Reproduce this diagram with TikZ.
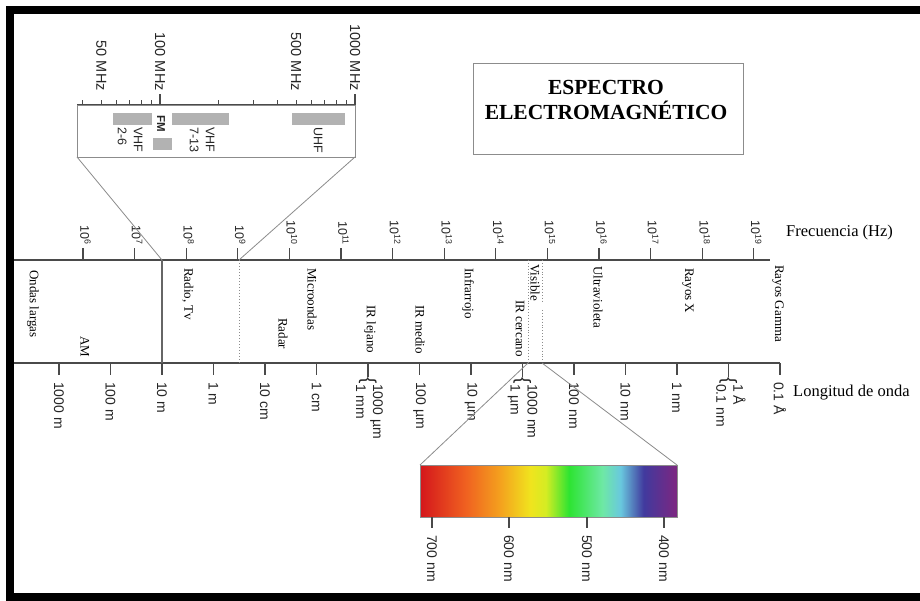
\documentclass[tikz,border=0pt]{standalone}
\usepackage{fontspec}
\setmainfont{Liberation Serif}
\newfontfamily\arialf{Liberation Sans}
\definecolor{axisgray}{HTML}{4A4A4A}
\definecolor{boxgray}{HTML}{8C8C8C}
\definecolor{bargray}{HTML}{B2B2B2}
\definecolor{sc0}{RGB}{212,22,28}
\definecolor{sc1}{RGB}{240,98,32}
\definecolor{sc2}{RGB}{244,160,30}
\definecolor{sc3}{RGB}{240,228,30}
\definecolor{sc4}{RGB}{212,236,35}
\definecolor{sc5}{RGB}{45,228,50}
\definecolor{sc6}{RGB}{110,232,165}
\definecolor{sc7}{RGB}{105,200,222}
\definecolor{sc8}{RGB}{65,58,158}
\definecolor{sc9}{RGB}{125,38,128}
\pgfdeclarehorizontalshading{visspec}{100bp}{%
  color(0bp)=(sc0);
  color(25bp)=(sc0);
  color(34bp)=(sc1);
  color(40.5bp)=(sc2);
  color(46.5bp)=(sc3);
  color(49.5bp)=(sc4);
  color(54bp)=(sc5);
  color(60.5bp)=(sc6);
  color(64bp)=(sc7);
  color(68.5bp)=(sc8);
  color(75bp)=(sc9);
  color(100bp)=(sc9)}
\tikzset{
  axisline/.style={draw=axisgray, line width=1.3pt},
  tickline/.style={draw=axisgray, line width=1.3pt},
  thinline/.style={draw=boxgray, line width=0.8pt},
  bandlabel/.style={rotate=-90, anchor=west, inner sep=0pt, font=\fontsize{13}{15}\selectfont},
  flabel/.style={rotate=-90, anchor=east, inner sep=0pt, text=black!85, font=\arialf\fontsize{12.5}{14}\selectfont},
  wlabel/.style={rotate=-90, anchor=west, inner sep=0pt, text=black!85, font=\arialf\fontsize{14}{17}\selectfont},
  mlabel/.style={rotate=-90, anchor=east, inner sep=0pt, text=black!85, font=\arialf\fontsize{14.5}{17}\selectfont},
  ilabel/.style={rotate=-90, anchor=west, inner sep=0pt, text=black!85, font=\arialf\fontsize{12.5}{16}\selectfont},
  graybar/.style={fill=bargray, draw=none},
  axistitle/.style={anchor=west, inner sep=0pt, font=\fontsize{16.5}{19}\selectfont}
}
\begin{document}
\begin{tikzpicture}[x=1pt,y=-1pt]
\useasboundingbox (0,0) rectangle (920,601);
% frame
\fill[black] (6,6) rectangle (920,601);
\fill[white] (14,14) rectangle (920,593);

% title box
\draw[boxgray, line width=1pt] (473,64) rectangle (743,155);
\node[font=\bfseries\fontsize{21.5}{25}\selectfont, align=center, inner sep=0pt] (title) at (606,100) {ESPECTRO\\ELECTROMAGNÉTICO};

% inset (MHz) box
\coordinate (ibl) at (77,157);
\coordinate (ibr) at (355,157);
\draw[thinline] (77,105) rectangle (355,157);
\draw[axisline, line width=1pt] (77,105) -- (355,105);
\foreach \v in {40,50,60,70,80,90,200,300,400,500,600,700,800,900}{
  \pgfmathsetmacro\xx{160+195*log10(\v/100)}
  \draw[tickline, line width=0.9pt] (\xx,105) -- (\xx,100);
}
\draw[tickline, line width=1.2pt] (160,105) -- (160,94);
\draw[tickline, line width=1.2pt] (355,105) -- (355,94);
\node[mlabel] (m50) at (101.3,91) {50 MHz};
\node[mlabel] (m100) at (160,91) {100 MHz};
\node[mlabel] (m500) at (296,91) {500 MHz};
\node[mlabel] (m1000) at (355,91) {1000 MHz};
\fill[graybar] (113,113) rectangle (152,125);
\fill[graybar] (153,138) rectangle (172,150);
\fill[graybar] (172,113) rectangle (229,125);
\fill[graybar] (292,113) rectangle (345,125);
\node[ilabel] (vhfa) at (129,127) {\begin{tabular}{@{}l@{}}VHF\\2-6\end{tabular}};
\node[ilabel, font=\arialf\bfseries\fontsize{11.5}{14}\selectfont] (fm) at (161,115) {FM};
\node[ilabel] (vhfb) at (201,127) {\begin{tabular}{@{}l@{}}VHF\\7-13\end{tabular}};
\node[ilabel] (uhf) at (318,127) {UHF};

% frequency axis
\coordinate (fl) at (14,260);
\coordinate (fr) at (770,260);
\draw[axisline] (fl) -- (fr);
\foreach \n [count=\i from 0] in {6,...,19}{
  \pgfmathsetmacro\xx{83+\i*51.6}
  \draw[tickline] (\xx,260) -- (\xx,248);
  \node[flabel] (f\n) at (\xx+2.5,245) {10\textsuperscript{\n}};
}
\node[axistitle] (freq) at (786,233) {Frecuencia (Hz)};

% wavelength axis
\coordinate (wl) at (14,363);
\coordinate (wr) at (780,363);
\draw[axisline] (wl) -- (wr);
\foreach \k/\t in {0/1000 m,1/100 m,2/10 m,3/1 m,4/10 cm,5/1 cm,7/100 µm,8/10 µm,10/100 nm,11/10 nm,12/1 nm,14/0.1 Å}{
  \pgfmathsetmacro\xx{59+\k*51.5}
  \draw[tickline] (\xx,363) -- (\xx,375);
  \node[wlabel] (w\k) at (\xx,382) {\t};
}
\foreach \k/\ta/\tb in {6/1000 µm/1 mm,9/1000 nm/1 µm,13/1 Å/0.1 nm}{
  \pgfmathsetmacro\xx{59+\k*51.5}
  \draw[tickline] (\xx,363) -- (\xx,377);
  \node[wlabel] (w\k) at (\xx,377.5) {\raisebox{-1.5pt}{\fontsize{19}{19}\selectfont\{}\begin{tabular}{@{}l@{}}\ta\\\tb\end{tabular}};
}
\node[axistitle] (long) at (793,393) {Longitud de onda};

% dividers
\coordinate (d1t) at (162,260); \coordinate (d1b) at (162,363);
\coordinate (d2t) at (239,260); \coordinate (d2b) at (239,363);
\draw[draw=black!60, line width=1.2pt] (d1t) -- (d1b);
\draw[draw=black!45, line width=1pt, dotted] (d2t) -- (d2b);
\coordinate (v1t) at (528,260); \coordinate (v1b) at (528,363);
\coordinate (v2t) at (542,260); \coordinate (v2m) at (542,301);
\coordinate (v2n) at (542,310); \coordinate (v2b) at (542,360);
\coordinate (v2u) at (542,363);
\draw[draw=black!45, line width=0.9pt, dotted] (v1t) -- (v1b);
\draw[draw=black!45, line width=0.9pt, dotted] (v2t) -- (v2m);
\draw[draw=black!45, line width=0.9pt, dotted] (v2n) -- (v2b);

% inset connectors
\draw[thinline] (ibl) -- (d1t);
\draw[thinline] (ibr) -- (d2t);

% band labels
\node[bandlabel] (ondas) at (33,270) {Ondas largas};
\node[bandlabel] (am) at (85,336) {AM};
\node[bandlabel] (radio) at (188,268) {Radio, Tv};
\node[bandlabel] (micro) at (312,268) {Microondas};
\node[bandlabel] (radar) at (283,318) {Radar};
\node[bandlabel] (irl) at (370,305) {IR lejano};
\node[bandlabel] (irm) at (420,305) {IR medio};
\node[bandlabel] (infra) at (468,268) {Infrarrojo};
\node[bandlabel] (irc) at (520,300) {IR cercano};
\node[bandlabel] (visible) at (535,264) {Visible};
\node[bandlabel] (uv) at (598,266) {Ultravioleta};
\node[bandlabel] (rx) at (688,268) {Rayos X};
\node[bandlabel] (rg) at (778,265) {Rayos Gamma};

% visible spectrum
\coordinate (sbl) at (420,465);
\coordinate (sbr) at (677,465);
\shade[shading=visspec] (420,465) rectangle (677,517);
\draw[boxgray, line width=0.8pt] (420,465) rectangle (677,517);
\draw[thinline] (sbl) -- (v1b);
\draw[thinline] (sbr) -- (v2u);
\foreach \x/\t in {432/700 nm,509/600 nm,587/500 nm,664/400 nm}{
  \draw[tickline] (\x,517) -- (\x,528);
  \node[wlabel] (s\x) at (\x,535) {\t};
}
\end{tikzpicture}
\end{document}
